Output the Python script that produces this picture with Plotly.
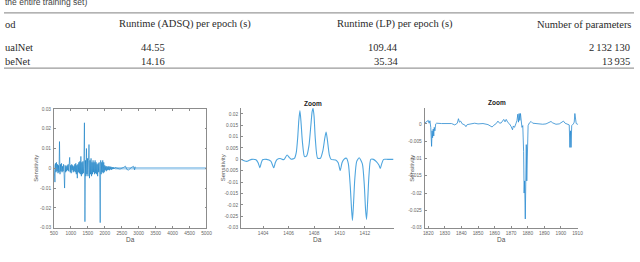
import plotly.graph_objects as go

# ---------------- table data ----------------
col_headers = ["Runtime (ADSQ) per epoch (s)", "Runtime (LP) per epoch (s)", "Number of parameters"]
row_labels = ["ualNet", "beNet"]
adsq_runtime = ["44.55", "14.16"]
lp_runtime = ["109.44", "35.34"]
n_params = ["2\u2009132\u2009130", "13\u2009935"]
caption_tail = "the entire training set)"

# ---------------- panel 1: full spectrum sensitivity ----------------
full_step = 15
full_start = 500
full_vals = [
    0.002, -0.003, -0.007, 0.0025, -0.002, 0.003, -0.0015, 0.002, -0.0025, 0.0015,
    -0.002, 0.0135, -0.003, 0.002, -0.0015, 0.0025, -0.002, 0.001, -0.0015, 0.002,
    -0.003, -0.010, 0.0015, -0.002, 0.001, -0.0015, 0.0015, -0.001, 0.002, -0.0015,
    0.002, 0.0055, -0.002, 0.0015, -0.0025, 0.002, -0.001, 0.0015, -0.002, 0.001,
    -0.0015, 0.002, -0.002, 0.0025, -0.003, 0.0015, -0.005, 0.002, -0.002, 0.003,
    -0.0025, 0.0035, -0.003, 0.006, -0.004, 0.003, -0.003, 0.0035, -0.0025, 0.004,
    0.023, -0.027, 0.004, -0.004, 0.010, -0.003, 0.005, -0.004, 0.004, 0.012,
    -0.005, 0.004, -0.003, 0.005, -0.004, 0.003, -0.003, 0.004, -0.002, 0.003,
    -0.003, 0.004, -0.0025, 0.003, -0.003, 0.002, -0.004, 0.0025, -0.002, 0.003,
    -0.003, -0.0275, 0.004, -0.003, 0.003, -0.002, 0.004, -0.0025, 0.003, -0.002,
    0.0015, -0.001, 0.001, -0.0015, 0.001, -0.001, 0.0008, -0.0008, 0.001, -0.001,
    0.0008, -0.0006, 0.0008, -0.0008, 0.0006, -0.0005, 0.0006, -0.0004, 0.0005, -0.0003,
]
full_da = [full_start + full_step * i for i in range(len(full_vals))]
sparse_da = [2300, 2450, 2550, 2610, 2650, 2700, 2800, 2850, 2880, 2900]
sparse_vals = [0.0003, -0.0004, 0.0004, 0.0011, -0.0006, -0.0009, 0.0006, 0.001, -0.0008, 0.0008]
tail_da = [2300, 5000]
tail_vals = [0.0, 0.0]

x1_ticks = [500, 1000, 1500, 2000, 2500, 3000, 3500, 4000, 4500, 5000]
y1_ticks = [0.03, 0.02, 0.01, 0, -0.01, -0.02, -0.03]
y1_labels = ["0.03", "0.02", "0.01", "0", "-0.01", "-0.02", "-0.03"]

# ---------------- panel 2: zoom 1402-1414 Da ----------------
zoom1_da = [
    1402.25, 1402.5, 1402.71, 1402.9, 1403.1, 1403.43, 1403.6, 1403.74, 1403.85, 1403.95,
    1404.26, 1404.6, 1404.83, 1404.95, 1405.08, 1405.34, 1405.5, 1405.63, 1405.88, 1406.05,
    1406.19, 1406.35, 1406.45, 1406.6, 1406.72, 1406.8, 1406.89, 1406.98, 1407.08, 1407.25,
    1407.42, 1407.6, 1407.75, 1407.85, 1407.92, 1408.0, 1408.1, 1408.28, 1408.5, 1408.7,
    1408.85, 1408.95, 1409.05, 1409.2, 1409.34, 1409.7, 1409.9, 1410.06, 1410.2, 1410.35,
    1410.55, 1410.7, 1410.85, 1410.95, 1411.02, 1411.1, 1411.2, 1411.35, 1411.55, 1411.8,
    1411.95, 1412.05, 1412.13, 1412.22, 1412.32, 1412.46, 1412.67, 1412.9, 1413.1, 1413.21,
    1413.32, 1413.47, 1413.8, 1414.25,
]
zoom1_vals = [
    0.0, -0.0006, -0.0009, -0.0004, 0.0, -0.0002, -0.0015, -0.0037, -0.0015, -0.0002,
    0.0, -0.0008, -0.0037, -0.0015, -0.0001, 0.0004, 0.0, -0.0001, 0.0019, 0.0008,
    0.0001, 0.0002, 0.0004, 0.003, 0.010, 0.017, 0.0214, 0.016, 0.008, 0.0012,
    0.0015, 0.006, 0.015, 0.021, 0.0224, 0.019, 0.009, 0.0005, 0.0005, 0.004,
    0.0095, 0.012, 0.0085, 0.002, 0.0, -0.0003, -0.0015, -0.0049, -0.0015, 0.0,
    0.0005, -0.002, -0.012, -0.022, -0.0269, -0.020, -0.009, -0.001, 0.0007, -0.002,
    -0.011, -0.022, -0.0264, -0.018, -0.007, 0.0, 0.0, -0.001, -0.0025, -0.004,
    -0.002, 0.0, 0.0, 0.0,
]
x2_ticks = [1404, 1406, 1408, 1410, 1412]
y2_ticks = [0.02, 0.015, 0.01, 0.005, 0, -0.005, -0.01, -0.015, -0.02, -0.025, -0.03]
y2_labels = ["0.02", "0.015", "0.01", "0.005", "0", "-0.005", "-0.01", "-0.015", "-0.02", "-0.025", "-0.03"]

# ---------------- panel 3: zoom 1818-1910 Da ----------------
zoom2_da = [
    1818.0, 1819.0, 1820.0, 1820.5, 1821.0, 1821.5, 1822.0, 1822.3, 1822.6, 1823.0,
    1823.3, 1823.6, 1824.0, 1824.5, 1825.0, 1828.0, 1831.0, 1834.0, 1836.0, 1837.5,
    1838.2, 1838.8, 1839.5, 1840.5, 1842.0, 1842.7, 1843.5, 1846.0, 1848.0, 1850.0,
    1853.0, 1856.0, 1857.5, 1858.5, 1859.5, 1861.0, 1862.0, 1863.0, 1864.0, 1865.5,
    1866.3, 1867.0, 1868.0, 1869.0, 1870.0, 1870.8, 1871.3, 1872.0, 1872.8, 1873.5,
    1874.0, 1874.4, 1874.8, 1875.2, 1875.6, 1876.0, 1876.5, 1877.0, 1877.5, 1877.8,
    1878.1, 1878.5, 1878.8, 1879.1, 1879.4, 1879.8, 1880.2, 1881.0, 1882.0, 1883.0,
    1885.0, 1887.0, 1889.0, 1891.0, 1893.0, 1894.0, 1895.0, 1897.0, 1899.0, 1900.5,
    1901.5, 1902.5, 1904.0, 1905.0, 1905.4, 1905.8, 1906.1, 1906.5, 1907.5, 1908.0,
    1908.4, 1908.7, 1909.2, 1910.0, 1910.4,
]
zoom2_vals = [
    0.0003, 0.0008, 0.001, 0.0002, 0.0009, -0.001, -0.0065, -0.002, -0.004, -0.0015,
    -0.0035, -0.001, -0.002, 0.0, 0.0002, 0.0001, 0.0, 0.0001, -0.0003, 0.0002,
    0.0015, 0.0005, 0.0008, 0.0, -0.0003, -0.0008, -0.0002, 0.0001, 0.0002, 0.0,
    0.0001, -0.0002, -0.0007, -0.0009, -0.0004, 0.0001, 0.0008, 0.0002, 0.0003, 0.0013,
    0.0006, 0.0013, 0.0004, 0.0, -0.0008, -0.0017, -0.0006, -0.001, 0.0, 0.001,
    0.0028, 0.0005, 0.003, 0.001, 0.003, 0.0002, -0.001, -0.0005, -0.008, -0.020,
    -0.0165, -0.0275, -0.020, -0.006, -0.0165, -0.004, -0.0005, 0.0003, 0.0007, 0.0002,
    0.0001, -0.0002, -0.0001, 0.0, 0.0004, 0.0007, 0.0003, -0.0001, 0.0, 0.0005,
    0.0008, 0.0002, 0.0, -0.0003, -0.0068, -0.002, -0.0068, -0.0005, 0.0, 0.0005,
    0.003, 0.0006, 0.0001, -0.0001, 0.0,
]
x3_ticks = [1820, 1830, 1840, 1850, 1860, 1870, 1880, 1890, 1900, 1910]
y3_ticks = [0, -0.005, -0.01, -0.015, -0.02, -0.025, -0.03]
y3_labels = ["0", "-0.005", "-0.01", "-0.015", "-0.02", "-0.025", "-0.03"]

# ---------------- figure ----------------
W, H = 640, 262


def px(xp):
    return xp / W


def py(yp):
    return 1 - yp / H


fig = go.Figure()
fig.add_trace(go.Scatter(x=tail_da, y=tail_vals, mode="lines",
                         line=dict(color="#a9d1ee", width=2.4), xaxis="x", yaxis="y"))
fig.add_trace(go.Scatter(x=full_da + sparse_da, y=full_vals + sparse_vals, mode="lines",
                         line=dict(color="#0a78c2", width=0.6), xaxis="x", yaxis="y"))
fig.add_trace(go.Scatter(x=zoom1_da, y=zoom1_vals, mode="lines",
                         line=dict(color="#4ea5de", width=1.1, shape="spline", smoothing=0.6),
                         xaxis="x2", yaxis="y2"))
fig.add_trace(go.Scatter(x=zoom2_da, y=zoom2_vals, mode="lines",
                         line=dict(color="#2a8ad0", width=0.8), xaxis="x3", yaxis="y3"))

tickfont = dict(family="Liberation Sans", size=4.8, color="#666666")
axis_common = dict(showline=True, linecolor="#8c8c8c", linewidth=0.8, ticks="inside",
                   ticklen=2, tickwidth=0.6, tickcolor="#8c8c8c", showgrid=False,
                   zeroline=False, tickfont=tickfont, ticklabelstandoff=1)

fig.update_layout(
    width=W, height=H, margin=dict(l=0, r=0, t=0, b=0),
    paper_bgcolor="white", plot_bgcolor="white", showlegend=False,
    xaxis=dict(domain=[px(50.7), px(205.7)], range=[500, 5000], tickvals=x1_ticks,
               mirror="ticks", anchor="y", **axis_common),
    yaxis=dict(domain=[py(230), py(109)], range=[-0.03, 0.03], tickvals=y1_ticks,
               ticktext=y1_labels, mirror="ticks", anchor="x", **axis_common),
    xaxis2=dict(domain=[px(240.7), px(395.7)], range=[1402.25, 1414.25], tickvals=x2_ticks,
                anchor="y2", **axis_common),
    yaxis2=dict(domain=[py(230), py(108)], range=[-0.03, 0.0226], tickvals=y2_ticks,
                ticktext=y2_labels, anchor="x2", **axis_common),
    xaxis3=dict(domain=[px(427.3), px(583.3)], range=[1817.8, 1910.4], tickvals=x3_ticks,
                anchor="y3", **axis_common),
    yaxis3=dict(domain=[py(230), py(107.7)], range=[-0.03, 0.0047], tickvals=y3_ticks,
                ticktext=y3_labels, anchor="x3", **axis_common),
)

serif = dict(family="Liberation Serif", size=10.5, color="#2a2a2a")
ann = []


def add_text(text, x, y, xanchor="left", font=serif, angle=0):
    ann.append(dict(text=text, x=px(x), y=py(y), xref="paper", yref="paper",
                    xanchor=xanchor, yanchor="middle", showarrow=False, font=font,
                    textangle=angle))


add_text(caption_tail, -1, 0, font=dict(family="Liberation Sans", size=8.5, color="#444444"))
add_text("od", -1, 22.7)
add_text(col_headers[0], 115, 22.7)
add_text(col_headers[1], 336, 22.7)
add_text(col_headers[2], 639, 22.7, xanchor="right")
for i, lab in enumerate(row_labels):
    yy = [46, 60.5][i]
    add_text(lab, -1, yy)
    add_text(adsq_runtime[i], 166, yy, xanchor="right")
    add_text(lp_runtime[i], 402, yy, xanchor="right")
    add_text(n_params[i], 638, yy, xanchor="right")

lab_font = dict(family="Liberation Sans", size=6.5, color="#555555")
ylab_font = dict(family="Liberation Sans", size=6, color="#555555")
for cx in [128.2, 318.2, 505.3]:
    add_text("Da", cx, 242.5, xanchor="center", font=lab_font)
for cx in [33, 222.5, 415]:
    add_text("Sensitivity", cx, 169.5, xanchor="center", font=ylab_font, angle=-90)
title_font = dict(family="Liberation Sans", size=6.5, color="#222222")
add_text("<b>Zoom</b>", 314, 103, xanchor="center", font=title_font)
add_text("<b>Zoom</b>", 501, 102, xanchor="center", font=title_font)

fig.update_layout(annotations=ann)

rule = dict(type="line", xref="paper", yref="paper", x0=0, x1=1)
fig.update_layout(shapes=[
    dict(rule, y0=py(11), y1=py(11), line=dict(color="#9a9a9a", width=1.3)),
    dict(rule, y0=py(67.5), y1=py(67.5), line=dict(color="#9a9a9a", width=1.3)),
])

fig.write_html(
    "out.html",
    config={"displayModeBar": False},
    post_script="document.body.style.margin='0';document.body.style.padding='0';"
                "document.body.style.overflow='hidden';",
)
